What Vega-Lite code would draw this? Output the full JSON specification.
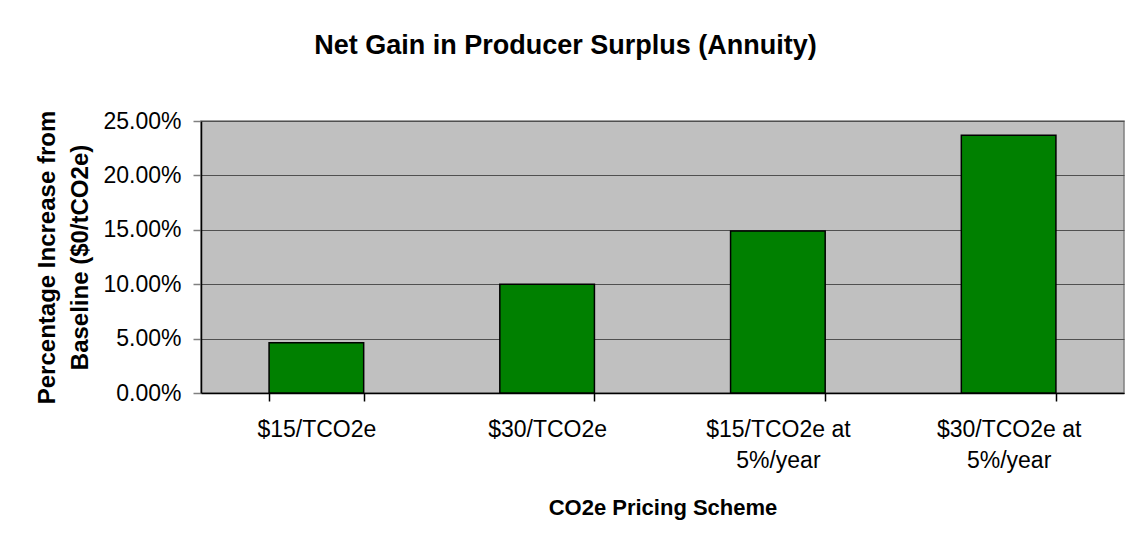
{
  "$schema": "https://vega.github.io/schema/vega-lite/v6.json",
  "autosize": "none",
  "width": 923,
  "height": 272,
  "padding": {"left": 201, "top": 121, "right": 2, "bottom": 155},
  "background": "white",
  "title": {
    "text": "Net Gain in Producer Surplus (Annuity)",
    "font": "Liberation Sans",
    "fontSize": 27,
    "fontWeight": "bold",
    "color": "black",
    "anchor": "middle",
    "dx": -97,
    "offset": 50
  },
  "data": {
    "values": [
      {"scheme": "$15/TCO2e", "value": 0.0462},
      {"scheme": "$30/TCO2e", "value": 0.0999},
      {"scheme": "$15/TCO2e at|5%/year", "value": 0.1489},
      {"scheme": "$30/TCO2e at|5%/year", "value": 0.2369}
    ]
  },
  "mark": {"type": "bar", "fill": "#008000", "stroke": "black", "strokeWidth": 1.5},
  "encoding": {
    "x": {
      "field": "scheme",
      "type": "nominal",
      "sort": null,
      "scale": {"paddingInner": 0.59, "paddingOuter": 0.295},
      "axis": {
        "title": "CO2e Pricing Scheme",
        "labelAngle": 0,
        "labelExpr": "split(datum.label, '|')",
        "labelLineHeight": 31,
        "labelPadding": 17,
        "tickBand": "extent",
        "tickSize": 8,
        "tickColor": "black",
        "tickWidth": 1.5,
        "domainColor": "black",
        "domainWidth": 1.5,
        "titlePadding": 25
      }
    },
    "y": {
      "field": "value",
      "type": "quantitative",
      "scale": {"domain": [0, 0.25], "nice": false},
      "axis": {
        "title": ["Percentage Increase from", "Baseline ($0/tCO2e)"],
        "format": ".2%",
        "values": [0, 0.05, 0.1, 0.15, 0.2, 0.25],
        "tickSize": 8,
        "tickColor": "#808080",
        "tickWidth": 1.5,
        "labelPadding": 12,
        "domainColor": "black",
        "domainWidth": 1.5,
        "grid": true,
        "gridColor": "#505050",
        "gridWidth": 1,
        "titleFontSize": 24,
        "titleLineHeight": 33,
        "titlePadding": 10
      }
    }
  },
  "config": {
    "view": {"fill": "#C0C0C0", "stroke": "#808080", "strokeWidth": 1.5},
    "axis": {
      "labelFont": "Liberation Sans",
      "labelFontSize": 23,
      "labelColor": "black",
      "titleFont": "Liberation Sans",
      "titleFontSize": 22,
      "titleFontWeight": "bold",
      "titleColor": "black"
    }
  }
}
